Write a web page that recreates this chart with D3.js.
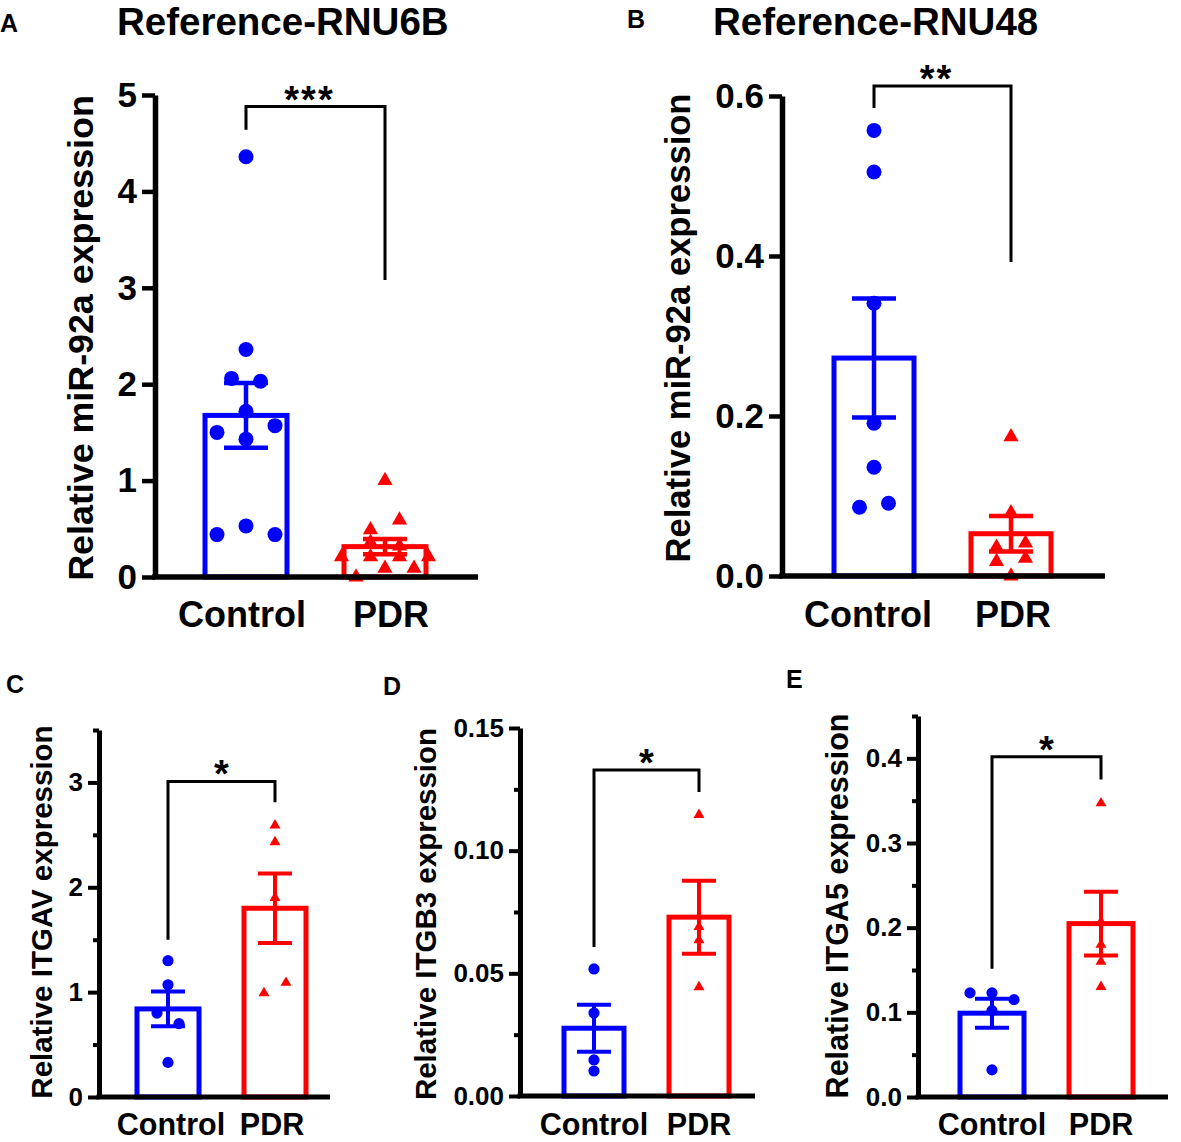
<!DOCTYPE html>
<html>
<head>
<meta charset="utf-8">
<script src="https://cdn.jsdelivr.net/npm/d3@7"></script>
<style>
  body { margin: 0; background: #fff; }
  svg text { font-family: "Liberation Sans", Arial, sans-serif; font-weight: bold; fill: #000; }
</style>
</head>
<body>
<svg id="fig" width="1181" height="1142"></svg>
<script>
// Data (individual samples per group)
var groups = ['Control', 'PDR']

var rnu6bControl = [4.36, 2.36, 2.06, 2.03, 1.72, 1.50, 1.43, 1.57, 0.44, 0.53, 0.44]
  , rnu6bPDR = [1.00, 0.49, 0.59, 0.36, 0.32, 0.21, 0.21, 0.21, 0.21, 0.00, 0.09, 0.09]
  , rnu48Control = [0.557, 0.505, 0.341, 0.191, 0.136, 0.086, 0.091]
  , rnu48PDR = [0.174, 0.079, 0.036, 0.041, 0.018, 0.022, 0.000]
  , itgavControl = [1.30, 1.07, 0.80, 0.70, 0.33]
  , itgavPDR = [2.59, 2.43, 1.90, 0.99, 1.09]
  , itgb3Control = [0.0518, 0.0338, 0.0147, 0.0102]
  , itgb3PDR = [0.1146, 0.0690, 0.0636, 0.0444]
  , itga5Control = [0.123, 0.123, 0.115, 0.102, 0.032]
  , itga5PDR = [0.347, 0.207, 0.180, 0.160, 0.130]

var rnu6bTicks = [0, 1, 2, 3, 4, 5]
  , rnu48Ticks = [0, 0.2, 0.4, 0.6]
  , itgavTicks = [0, 1, 2, 3]
  , itgavMinor = [0.5, 1.5, 2.5, 3.5]
  , itgb3Ticks = [0, 0.05, 0.10, 0.15]
  , itgb3Minor = [0.025, 0.075, 0.125]
  , itga5Ticks = [0, 0.1, 0.2, 0.3, 0.4]
  , itga5Minor = [0.05, 0.15, 0.25, 0.35, 0.45]

var panelLetters = ['A', 'B', 'C', 'D', 'E']
  , panelTitles = ['Reference-RNU6B', 'Reference-RNU48', '', '', '']
  , yTitles = ['Relative miR-92a expression', 'Relative miR-92a expression',
      'Relative ITGAV expression', 'Relative ITGB3 expression', 'Relative ITGA5 expression']
  , stars = ['***', '**', '*', '*', '*']

var colors = ['#0000ff', '#ff0000']

// Layout of each panel (pixels), plus bracket heights in data units
var panels = [
  { values: [rnu6bControl, rnu6bPDR], ticks: rnu6bTicks, minor: [], fmt: 'd', ymax: 5,
    left: 155, right: 478, y0: 577, ytop: 95, cx: [246, 385], barW: 87, r: 7.5, tri: 100, step: 29, gap: 10, cap: 22,
    axisW: 5.5, barStroke: 5, errStroke: 4.5, tickLen: 13, tickFont: 35, labelFont: 36, labelDx: [-4, 6],
    titleFont: 35.8, titleX: 93, titleY: 338, letterX: 0, letterY: 32, headX: 117, headY: 35,
    bracket: [4.64, 4.88, 3.08], labelY: 627 },
  { values: [rnu48Control, rnu48PDR], ticks: rnu48Ticks, minor: [], fmt: '.1f', ymax: 0.6,
    left: 782, right: 1105, y0: 576, ytop: 96, cx: [874, 1011], barW: 85, r: 7.5, tri: 100, step: 29, gap: 10.8, cap: 22,
    axisW: 5.5, barStroke: 5, errStroke: 4.5, tickLen: 13, tickFont: 35, labelFont: 36, labelDx: [-6, 2],
    titleFont: 34.6, titleX: 690, titleY: 328, letterX: 627, letterY: 28, headX: 713, headY: 35,
    bracket: [0.585, 0.6125, 0.3925], labelY: 627 },
  { values: [itgavControl, itgavPDR], ticks: itgavTicks, minor: itgavMinor, fmt: 'd', ymax: 3.5,
    left: 99, right: 330, y0: 1097, ytop: 730, cx: [168, 275], barW: 67, r: 5.6, tri: 52, step: 22, gap: 10.8, cap: 17,
    axisW: 5, barStroke: 5, errStroke: 4, tickLen: 11, tickFont: 26, labelFont: 30.5, labelDx: [3, -3],
    titleFont: 29.5, titleX: 52, titleY: 912, letterX: 6, letterY: 693,
    bracket: [1.50, 3.01, 2.81], labelY: 1135 },
  { values: [itgb3Control, itgb3PDR], ticks: itgb3Ticks, minor: itgb3Minor, fmt: '.2f', ymax: 0.15,
    left: 520, right: 755, y0: 1096, ytop: 728, cx: [594, 699], barW: 65, r: 5.6, tri: 52, step: 22, gap: 10.8, cap: 17,
    axisW: 5, barStroke: 5, errStroke: 4, tickLen: 11, tickFont: 26, labelFont: 30.5, labelDx: [0, 0],
    titleFont: 29.5, titleX: 436, titleY: 914, letterX: 383, letterY: 695,
    bracket: [0.0607, 0.1329, 0.1239], labelY: 1135 },
  { values: [itga5Control, itga5PDR], ticks: itga5Ticks, minor: itga5Minor, fmt: '.1f', ymax: 0.45,
    left: 918, right: 1168, y0: 1097, ytop: 716, cx: [992, 1101], barW: 69, r: 5.6, tri: 52, step: 22, gap: 10.8, cap: 17,
    axisW: 5, barStroke: 5, errStroke: 4, tickLen: 11, tickFont: 26, labelFont: 30.5, labelDx: [0, 0],
    titleFont: 30.5, titleX: 848, titleY: 906, letterX: 786, letterY: 688,
    bracket: [0.1515, 0.402, 0.375], labelY: 1135 }
]

var svg = d3.select('svg#fig')
svg.append('rect').attr('width', 1181).attr('height', 1142).attr('fill', '#fff')

// Points with close values share a row and are spread sideways, like in Prism.
var spreadPoints = function(values, y, step, gap) {
  var order = d3.range(values.length).sort(function(a, b) { return values[b] - values[a] })
    , rows = [], row = [order[0]], dx = []
  for (var k = 1; k < order.length; k++) {
    if (y(values[order[k]]) - y(values[order[k - 1]]) < gap) row.push(order[k])
    else { rows.push(row); row = [order[k]] }
  }
  rows.push(row)
  rows.forEach(function(r) {
    r.sort(d3.ascending)
    r.forEach(function(i, j) { dx[i] = (j - (r.length - 1) / 2) * step })
  })
  return values.map(function(v, i) { return { v: v, dx: dx[i] } })
}

panels.forEach(function(p, pi) {
  var g = svg.append('g')
    , y = d3.scaleLinear().domain([0, p.ymax]).range([p.y0, p.ytop])
    , x = d3.scalePoint().domain(groups).range(p.cx)

  var stats = p.values.map(function(vals, gi) {
    var m = d3.mean(vals)
    return { group: groups[gi], mean: m, sem: d3.deviation(vals) / Math.sqrt(vals.length), color: colors[gi] }
  })

  // bars
  g.selectAll('rect.bar').data(stats)
    .enter().append('rect').classed('bar', true)
    .attr('x', function(d) { return x(d.group) - (p.barW - p.barStroke) / 2 })
    .attr('width', p.barW - p.barStroke)
    .attr('y', function(d) { return y(d.mean) })
    .attr('height', function(d) { return p.y0 - y(d.mean) })
    .attr('fill', 'none')
    .attr('stroke', function(d) { return d.color })
    .attr('stroke-width', p.barStroke)

  // individual samples
  p.values.forEach(function(vals, gi) {
    var pts = spreadPoints(vals, y, p.step, p.gap)
    if (gi === 0) {
      g.selectAll('circle.pt').data(pts)
        .enter().append('circle').classed('pt', true)
        .attr('cx', function(d) { return x(groups[gi]) + d.dx })
        .attr('cy', function(d) { return y(d.v) })
        .attr('r', p.r)
        .attr('fill', colors[gi])
    } else {
      g.selectAll('path.pt').data(pts)
        .enter().append('path').classed('pt', true)
        .attr('d', d3.symbol().type(d3.symbolTriangle).size(p.tri))
        .attr('transform', function(d) { return 'translate(' + (x(groups[gi]) + d.dx) + ',' + y(d.v) + ')' })
        .attr('fill', colors[gi])
    }
  })

  // mean ± SEM
  var err = g.selectAll('g.err').data(stats).enter().append('g').classed('err', true)
    .attr('stroke', function(d) { return d.color })
    .attr('stroke-width', p.errStroke)
  err.append('line')
    .attr('x1', function(d) { return x(d.group) }).attr('x2', function(d) { return x(d.group) })
    .attr('y1', function(d) { return y(d.mean - d.sem) }).attr('y2', function(d) { return y(d.mean + d.sem) })
  ;[-1, 1].forEach(function(s) {
    err.append('line')
      .attr('x1', function(d) { return x(d.group) - p.cap }).attr('x2', function(d) { return x(d.group) + p.cap })
      .attr('y1', function(d) { return y(d.mean + s * d.sem) }).attr('y2', function(d) { return y(d.mean + s * d.sem) })
  })

  // axes
  var yAxis = g.append('g').attr('transform', 'translate(' + p.left + ',0)')
    .call(d3.axisLeft(y).tickValues(p.ticks).tickSize(p.tickLen).tickSizeOuter(0)
      .tickPadding(5).tickFormat(d3.format(p.fmt)))
  yAxis.select('.domain').attr('stroke-width', p.axisW)
  yAxis.selectAll('.tick line').attr('stroke-width', p.axisW - 1)
  yAxis.selectAll('.tick text').attr('font-size', p.tickFont)
    .attr('font-family', '"Liberation Sans", Arial, sans-serif').attr('font-weight', 'bold')
  if (p.minor.length) {
    var minor = g.append('g').attr('transform', 'translate(' + p.left + ',0)')
      .call(d3.axisLeft(y).tickValues(p.minor).tickSize(6).tickSizeOuter(0).tickFormat(''))
    minor.select('.domain').remove()
    minor.selectAll('.tick line').attr('stroke-width', p.axisW - 1)
  }
  g.append('line')
    .attr('x1', p.left - p.axisW / 2).attr('x2', p.right)
    .attr('y1', p.y0).attr('y2', p.y0)
    .attr('stroke', '#000').attr('stroke-width', p.axisW)

  g.selectAll('text.xlab').data(groups)
    .enter().append('text').classed('xlab', true)
    .attr('x', function(d, i) { return x(d) + p.labelDx[i] }).attr('y', p.labelY)
    .attr('text-anchor', 'middle').attr('font-size', p.labelFont)
    .text(function(d) { return d })

  g.append('text')
    .attr('transform', 'translate(' + p.titleX + ',' + p.titleY + ') rotate(-90)')
    .attr('text-anchor', 'middle').attr('font-size', p.titleFont)
    .text(yTitles[pi])

  // significance bracket
  var bx0 = x(groups[0]), bx1 = x(groups[1])
  g.append('path')
    .attr('d', 'M' + bx0 + ',' + y(p.bracket[0]) + 'V' + y(p.bracket[1]) +
      'H' + bx1 + 'V' + y(p.bracket[2]))
    .attr('fill', 'none').attr('stroke', '#000').attr('stroke-width', 3)
  g.append('text')
    .attr('x', (bx0 + bx1) / 2 - (pi < 2 ? 6 : 0)).attr('y', y(p.bracket[1]) + 6)
    .attr('text-anchor', 'middle').attr('font-size', 38).attr('letter-spacing', pi < 2 ? 2 : 0)
    .text(stars[pi])

  // panel letter and heading
  g.append('text').attr('x', p.letterX).attr('y', p.letterY)
    .attr('font-size', 25).text(panelLetters[pi])
  if (panelTitles[pi]) {
    g.append('text').attr('x', p.headX).attr('y', p.headY)
      .attr('font-size', 38.5).text(panelTitles[pi])
  }
})
</script>
</body>
</html>
